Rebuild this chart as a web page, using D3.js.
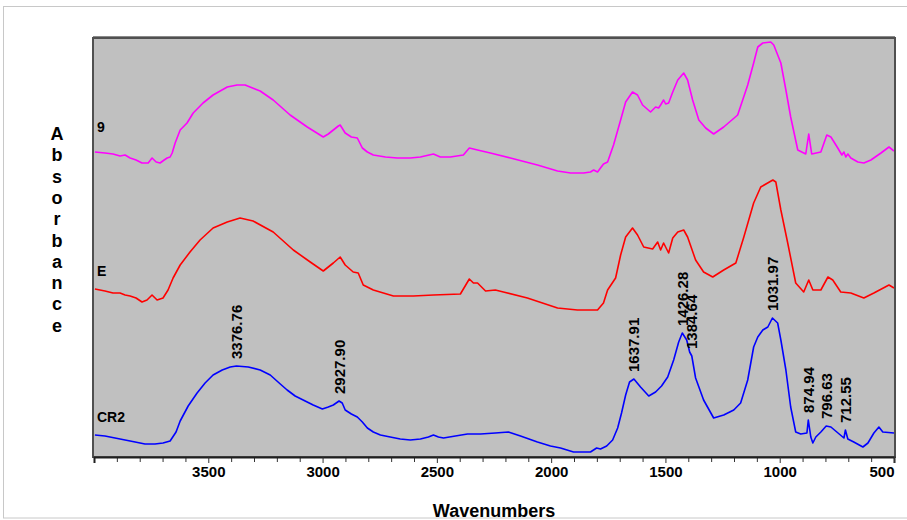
<!DOCTYPE html>
<html>
<head>
<meta charset="utf-8">
<script src="https://cdn.jsdelivr.net/npm/d3@7"></script>
<style>
  html, body { margin: 0; padding: 0; background: #ffffff; }
  svg { display: block; }
  text { font-family: "Liberation Sans", Arial, sans-serif; font-weight: bold; fill: #000; }
</style>
</head>
<body>
<svg id="chart" width="907" height="520"></svg>
<script>
// IR spectra, wavenumber (cm-1) vs absorbance, each trace offset vertically
const series9 = [
  [3996,3.05],[3952,3.04],[3917,3.03],[3886,3.01],[3864,3.02],[3842,2.99],[3816,2.97],[3790,2.94],
  [3763,2.94],[3746,2.99],[3728,2.95],[3711,2.94],[3693,2.97],[3680,2.99],[3667,3.00],[3658,3.04],
  [3645,3.14],[3623,3.27],[3593,3.34],[3566,3.44],[3523,3.54],[3479,3.62],[3417,3.70],[3374,3.72],
  [3339,3.72],[3273,3.66],[3216,3.57],[3142,3.42],[3067,3.30],[2997,3.20],[2975,3.23],[2953,3.27],
  [2931,3.31],[2923,3.32],[2901,3.24],[2874,3.20],[2848,3.19],[2826,3.09],[2804,3.05],[2778,3.02],
  [2725,3.00],[2673,2.99],[2616,2.99],[2572,3.00],[2515,3.03],[2485,3.00],[2441,3.00],[2384,3.02],
  [2358,3.09],[2322,3.07],[2266,3.04],[2178,2.99],[2060,2.92],[1972,2.86],[1915,2.84],[1858,2.84],
  [1828,2.85],[1814,2.87],[1797,2.85],[1771,2.93],[1753,2.95],[1727,3.12],[1696,3.37],[1674,3.55],
  [1644,3.65],[1622,3.62],[1600,3.52],[1565,3.45],[1543,3.50],[1530,3.49],[1521,3.52],[1508,3.57],
  [1499,3.53],[1486,3.54],[1468,3.65],[1446,3.77],[1420,3.84],[1403,3.77],[1381,3.57],[1354,3.37],
  [1324,3.29],[1289,3.23],[1245,3.30],[1184,3.42],[1140,3.72],[1114,3.94],[1096,4.10],[1074,4.14],
  [1039,4.15],[1026,4.12],[995,3.94],[973,3.67],[952,3.40],[921,3.07],[886,3.03],[873,3.23],
  [860,3.03],[820,3.05],[794,3.22],[776,3.20],[746,3.09],[728,3.02],[719,3.05],[711,3.00],
  [702,3.03],[689,2.99],[658,2.95],[632,2.94],[601,2.97],[557,3.04],[522,3.10],[500,3.06]
];

const seriesE = [
  [3996,1.68],[3952,1.66],[3917,1.64],[3886,1.64],[3864,1.62],[3842,1.61],[3816,1.59],[3790,1.55],
  [3768,1.57],[3746,1.62],[3724,1.57],[3698,1.59],[3676,1.67],[3654,1.79],[3623,1.92],[3580,2.05],
  [3536,2.17],[3479,2.29],[3417,2.35],[3361,2.39],[3304,2.36],[3216,2.25],[3128,2.07],[3054,1.95],
  [2997,1.86],[2953,1.94],[2923,2.00],[2901,1.92],[2866,1.85],[2844,1.84],[2822,1.72],[2778,1.67],
  [2690,1.61],[2603,1.61],[2515,1.62],[2397,1.63],[2371,1.73],[2358,1.78],[2340,1.74],[2322,1.74],
  [2287,1.66],[2244,1.67],[2209,1.65],[2104,1.59],[1972,1.49],[1885,1.47],[1797,1.47],[1771,1.54],
  [1753,1.67],[1718,1.79],[1696,2.02],[1674,2.20],[1644,2.29],[1622,2.22],[1595,2.10],[1556,2.08],
  [1534,2.15],[1521,2.07],[1508,2.14],[1486,2.04],[1468,2.19],[1446,2.25],[1420,2.27],[1403,2.20],
  [1368,1.97],[1333,1.85],[1293,1.80],[1245,1.87],[1192,1.94],[1157,2.20],[1114,2.54],[1083,2.70],
  [1030,2.77],[1017,2.75],[995,2.47],[965,2.14],[930,1.74],[895,1.65],[873,1.77],[855,1.67],
  [820,1.67],[789,1.80],[768,1.77],[733,1.65],[689,1.64],[632,1.59],[588,1.64],[522,1.72],[500,1.69]
];

const seriesCR2 = [
  [3996,0.22],[3952,0.21],[3908,0.19],[3864,0.17],[3820,0.15],[3777,0.13],[3733,0.13],[3698,0.14],
  [3667,0.16],[3641,0.25],[3623,0.36],[3588,0.51],[3549,0.64],[3514,0.74],[3479,0.82],[3439,0.87],
  [3404,0.90],[3376.76,0.91],[3325,0.90],[3273,0.87],[3229,0.82],[3185,0.73],[3155,0.67],[3120,0.61],
  [3085,0.57],[3041,0.52],[3001,0.48],[2975,0.50],[2953,0.52],[2927.90,0.56],[2914,0.54],[2901,0.47],
  [2874,0.43],[2848,0.40],[2826,0.35],[2804,0.29],[2778,0.25],[2747,0.22],[2704,0.20],[2660,0.18],
  [2616,0.17],[2572,0.18],[2537,0.20],[2515,0.22],[2493,0.20],[2471,0.19],[2419,0.21],[2366,0.23],
  [2309,0.23],[2244,0.24],[2187,0.25],[2134,0.21],[2060,0.15],[2003,0.11],[1959,0.09],[1902,0.05],
  [1828,0.05],[1801,0.09],[1784,0.08],[1757,0.11],[1731,0.17],[1709,0.29],[1692,0.44],[1674,0.62],
  [1657,0.75],[1637.91,0.78],[1609,0.70],[1573,0.61],[1543,0.65],[1517,0.71],[1490,0.80],[1464,0.97],
  [1442,1.15],[1426.28,1.24],[1407,1.17],[1394,1.05],[1384.64,1.01],[1368,0.79],[1333,0.57],[1289,0.39],
  [1245,0.42],[1201,0.47],[1171,0.54],[1140,0.77],[1114,1.10],[1096,1.20],[1074,1.27],[1052,1.30],
  [1031.97,1.39],[1009,1.34],[995,1.17],[973,0.87],[952,0.50],[930,0.25],[908,0.23],[881,0.24],
  [874.94,0.37],[864,0.20],[855,0.14],[842,0.20],[820,0.25],[796.63,0.31],[776,0.30],[745,0.24],
  [719,0.19],[712.55,0.27],[702,0.18],[676,0.15],[636,0.10],[614,0.14],[588,0.24],[566,0.30],
  [549,0.25],[500,0.24]
];

// peak positions annotated on the CR2 trace
const peaksCR2 = [3376.76, 2927.90, 1637.91, 1426.28, 1384.64, 1031.97, 874.94, 796.63, 712.55];

const seriesNames = ["9", "E", "CR2"];
const seriesColors = ["#ff00ff", "#ff0000", "#0000ff"];
const majorTicks = [3500, 3000, 2500, 2000, 1500, 1000, 500];
const minorTicks = d3.range(600, 4000, 100).filter(v => v % 500 !== 0);
const xTitle = "Wavenumbers";
const yTitle = "Absorbance";

const svg = d3.select("#chart");
const plot = { left: 93, top: 38, right: 895, bottom: 457 };

const x = d3.scaleLinear().domain([4000, 500]).range([94, 894]);
const y = d3.scaleLinear().domain([0, 4.19]).range([457, 38]);

// outer panel border
svg.append("rect")
  .attr("x", 3.5).attr("y", 6.5).attr("width", 930).attr("height", 511.5)
  .attr("fill", "#ffffff").attr("stroke", "#c8c8c8").attr("stroke-width", 1);

// plot background
svg.append("rect")
  .attr("x", plot.left).attr("y", plot.top)
  .attr("width", plot.right - plot.left).attr("height", plot.bottom - plot.top)
  .attr("fill", "#c0c0c0");

svg.append("clipPath").attr("id", "clip")
  .append("rect")
  .attr("x", plot.left + 1).attr("y", plot.top + 1)
  .attr("width", plot.right - plot.left - 2).attr("height", plot.bottom - plot.top - 2);

const line = d3.line().x(d => x(d[0])).y(d => y(d[1]));
const allSeries = [series9, seriesE, seriesCR2];

const traces = svg.append("g").attr("clip-path", "url(#clip)");
allSeries.forEach((s, i) => {
  traces.append("path")
    .datum(s)
    .attr("d", line)
    .attr("fill", "none")
    .attr("stroke", seriesColors[i])
    .attr("stroke-width", 1.6)
    .attr("stroke-linejoin", "round");
});

// frame
svg.append("rect")
  .attr("x", plot.left).attr("y", plot.top)
  .attr("width", plot.right - plot.left).attr("height", plot.bottom - plot.top)
  .attr("fill", "none").attr("stroke", "#505050").attr("stroke-width", 2);
svg.append("line")
  .attr("x1", plot.left).attr("x2", plot.right)
  .attr("y1", plot.top - 1.5).attr("y2", plot.top - 1.5)
  .attr("stroke", "#8a8a8a").attr("stroke-width", 1);

// bottom axis: minor ticks every 100, labelled majors every 500
const minorAxis = d3.axisBottom(x).tickValues(minorTicks).tickSize(5).tickFormat("");
svg.append("g").attr("transform", `translate(0,${plot.bottom})`).call(minorAxis)
  .call(g => g.select(".domain").remove())
  .call(g => g.selectAll("line").attr("stroke", "#333"));

const majorAxis = d3.axisBottom(x).tickValues(majorTicks).tickSize(6).tickPadding(3).tickFormat(d3.format("d"));
const gx = svg.append("g").attr("transform", `translate(0,${plot.bottom})`).call(majorAxis);
gx.select(".domain").attr("stroke", "#202020").attr("stroke-width", 2);
gx.selectAll("line").attr("stroke", "#333");
gx.selectAll("text")
  .attr("font-size", 15).attr("font-weight", "bold")
  .attr("font-family", "'Liberation Sans', Arial, sans-serif")
  .attr("text-anchor", d => d === 500 ? "end" : "middle");

// axis titles
svg.append("text")
  .attr("x", 494).attr("y", 517)
  .attr("text-anchor", "middle").attr("font-size", 18)
  .text(xTitle);

svg.append("g").selectAll("text")
  .data(yTitle.split(""))
  .join("text")
  .attr("x", 57).attr("y", (d, i) => 140 + i * 21.3)
  .attr("text-anchor", "middle").attr("font-size", 18)
  .text(d => d);

// trace names
const nameY = [132, 276, 422];
svg.append("g").selectAll("text")
  .data(seriesNames)
  .join("text")
  .attr("x", 97).attr("y", (d, i) => nameY[i])
  .attr("font-size", 14)
  .text(d => d);

// peak annotations on CR2
const peakPoints = peaksCR2.map(w => seriesCR2.find(p => p[0] === w));
svg.append("g").selectAll("text")
  .data(peakPoints)
  .join("text")
  .attr("transform", d => `translate(${x(d[0]) + 5.5},${y(d[1]) - 7}) rotate(-90)`)
  .attr("font-size", 15)
  .text(d => d3.format(".2f")(d[0]));
</script>
</body>
</html>
